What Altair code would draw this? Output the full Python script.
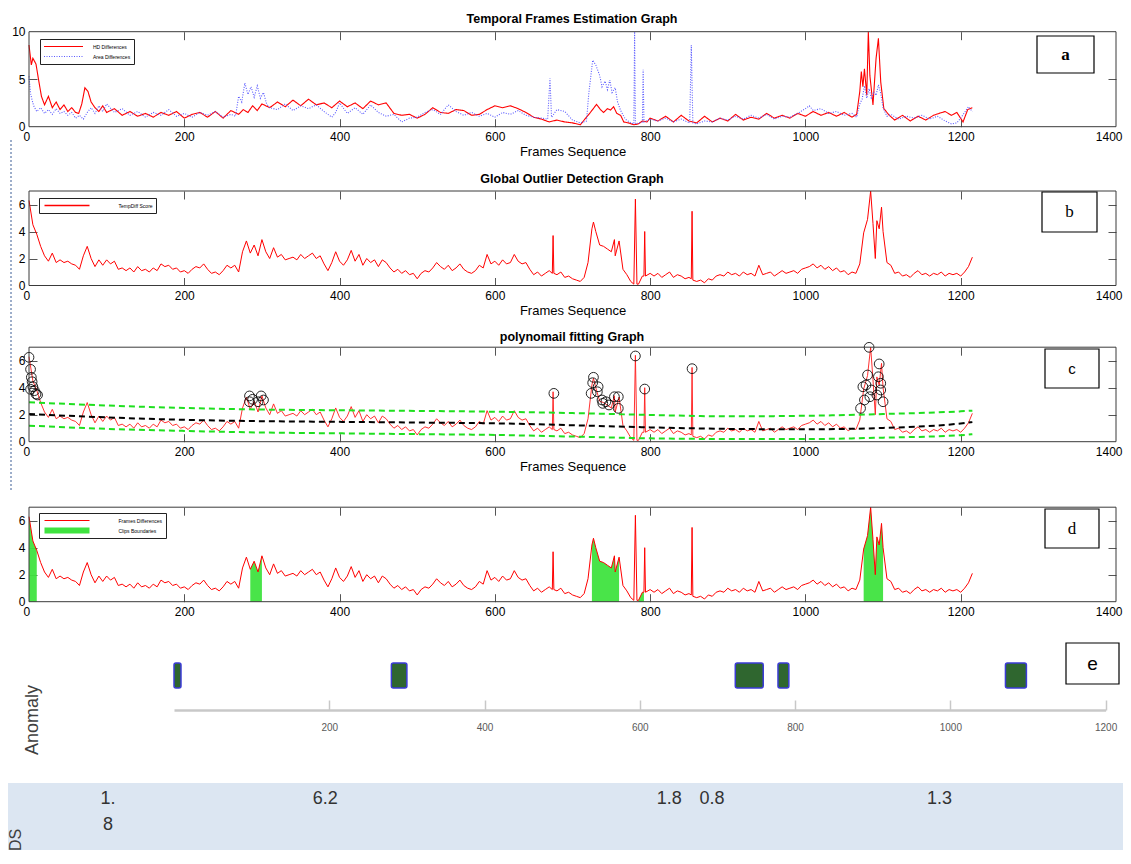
import altair as alt
import pandas as pd

W, H = 1115, 842
FONT = "Liberation Sans, Arial, sans-serif"
NARROW = "Liberation Sans Narrow, Liberation Sans, Arial, sans-serif"
SERIF = "Liberation Serif, DejaVu Serif, serif"

# ---------------- data ----------------
# TempDiff score (panels b, c, d)
tempdiff_frames = [
    0, 5, 10, 15, 20, 25, 30, 35, 40, 45, 50, 55, 60, 65, 70, 75, 80, 85, 90, 95, 100,
    105, 110, 115, 120, 125, 130, 135, 140, 145, 150, 155, 160, 165, 170, 175, 180, 185, 190, 195, 200,
    205, 210, 215, 220, 225, 230, 235, 240, 245, 250, 255, 260, 265, 270, 275, 280, 285, 290, 295, 300,
    305, 310, 315, 320, 325, 330, 335, 340, 345, 350, 355, 360, 365, 370, 375, 380, 385, 390, 395, 400,
    405, 410, 415, 420, 425, 430, 435, 440, 445, 450, 455, 460, 465, 470, 475, 480, 485, 490, 495, 500,
    505, 510, 515, 520, 525, 530, 535, 540, 545, 550, 555, 560, 565, 570, 575, 580, 585, 590, 595, 600,
    605, 610, 615, 620, 625, 630, 635, 640, 645, 650, 655, 660, 665, 670, 674, 675, 676,
    680, 685, 690, 695, 700, 705, 710, 715, 720,
    725, 727, 730, 735, 740, 745, 750, 754, 755, 760, 765, 770, 775,
    779, 781, 783, 785, 790, 792, 793, 794, 800,
    805, 810, 815, 820, 825, 830, 835, 840, 845, 850, 853, 854, 855,
    860, 865, 870, 875, 880, 885, 890, 895, 900,
    905, 910, 915, 920, 925, 930, 935, 940, 945, 950, 955, 960, 965, 970, 975, 980, 985, 990, 995, 1000,
    1005, 1010, 1015, 1020, 1025, 1030, 1035, 1040, 1045, 1050, 1055, 1060, 1065, 1070,
    1075, 1080, 1084, 1087, 1090, 1092, 1095, 1098, 1100,
    1105, 1110, 1115, 1120, 1125, 1130, 1135, 1140, 1145, 1150, 1155, 1160, 1165, 1170, 1175, 1180,
    1185, 1190, 1195, 1200, 1205, 1210, 1215,
]
tempdiff_score = [
    6.3, 4.5, 3.8, 2.9, 2.2, 1.8, 2.4, 1.7, 1.9, 1.7, 1.8, 1.6, 1.5, 1.2, 2.2, 2.9, 2.0, 1.4, 1.9, 1.5, 1.9,
    1.6, 1.8, 1.2, 1.3, 1.1, 1.3, 1.0, 1.4, 1.1, 1.2, 1.0, 1.3, 1.1, 1.6, 1.4, 1.5, 1.2, 1.3, 1.0, 1.1,
    0.9, 1.2, 1.4, 1.3, 1.6, 1.2, 0.9, 1.0, 0.8, 1.1, 1.5, 1.3, 1.5, 1.0, 2.5, 3.3, 2.4, 3.0, 2.2, 3.4,
    2.5, 2.0, 2.8, 2.1, 2.3, 1.9, 2.0, 2.1, 1.9, 2.3, 2.0, 2.2, 2.4, 2.0, 2.2, 1.6, 1.1, 1.7, 2.5, 1.8,
    1.5, 1.9, 2.6, 1.8, 2.3, 1.5, 2.0, 1.7, 1.9, 1.4, 1.9, 1.7, 1.3, 1.0, 1.2, 0.9, 1.1, 0.8, 0.9, 0.5,
    0.9, 1.1, 1.0, 1.3, 1.7, 1.4, 1.2, 1.5, 1.1, 1.3, 1.6, 1.2, 1.0, 0.9, 1.1, 1.5, 1.3, 2.3, 1.6, 1.8,
    1.5, 1.9, 1.6, 1.7, 2.3, 1.8, 1.6, 1.7, 1.2, 0.8, 1.0, 0.7, 0.9, 1.1, 0.9, 3.7, 0.9,
    0.8, 1.0, 0.6, 0.7, 0.5, 0.4, 0.3, 0.6, 1.7,
    4.2, 4.7, 4.0, 3.0, 2.9, 2.7, 2.5, 3.4, 2.2, 3.3, 1.2, 0.8, 0.3,
    0.1, 6.4, 0.1, 0.1, 0.7, 0.7, 4.0, 0.7, 0.9,
    0.7, 0.9, 0.6, 0.8, 1.0, 0.6, 0.8, 0.7, 0.5, 0.6, 0.5, 5.5, 0.4,
    0.3, 0.4, 0.2, 0.5, 0.4, 0.7, 0.8, 0.7, 1.0,
    0.8, 0.9, 0.7, 1.0, 0.8, 0.9, 0.7, 1.5, 0.8, 0.9, 1.0, 0.7, 0.9, 1.1, 0.9, 1.0, 1.1, 0.9, 1.2, 1.3,
    1.4, 1.6, 1.3, 1.5, 1.2, 1.4, 1.1, 1.3, 1.0, 1.1, 0.8, 1.0, 0.9, 1.6,
    3.9, 4.9, 7.0, 4.6, 2.0, 4.8, 4.2, 5.8, 4.0,
    1.7, 1.5, 0.9, 1.0, 0.7, 0.8, 0.6, 0.9, 1.1, 0.8, 0.9, 0.7, 0.9, 0.8, 1.0, 0.7,
    0.9, 0.8, 0.9, 0.7, 1.0, 1.4, 2.1,
]

# HD differences (panel a, red)
hd_frames = [
    0, 3, 5, 9, 12, 16, 20, 25, 30, 35, 40, 45, 50, 55, 60, 64, 68, 72, 76, 80, 85, 90, 95, 100,
    110, 120, 130, 140, 150, 160, 170, 180, 190, 200,
    210, 220, 230, 240, 250, 260, 270, 276, 282, 288, 294, 300,
    310, 320, 330, 340, 350, 360, 370, 380, 390, 400,
    410, 420, 430, 440, 450, 460, 470, 480, 490, 500,
    510, 520, 530, 540, 550, 560, 570, 580, 590, 600,
    610, 620, 630, 640, 650, 660, 670, 680, 690, 700, 710, 717, 723, 731, 736, 740, 745, 749, 753, 757,
    762, 766, 772, 779, 785, 790, 796, 800,
    810, 820, 830, 840, 850, 860, 870, 880, 890, 900,
    910, 920, 930, 940, 950, 960, 970, 980, 990, 1000,
    1010, 1020, 1030, 1040, 1050, 1060, 1066, 1070, 1072, 1074, 1076, 1079, 1081, 1083, 1087, 1091,
    1094, 1097, 1101, 1108,
    1115, 1125, 1135, 1145, 1155, 1165, 1172, 1180, 1188, 1195, 1203, 1209, 1215,
]
hd_diff = [
    8.6, 6.5, 7.2, 6.6, 5.1, 3.2, 2.3, 3.2, 2.0, 2.6, 1.8, 2.3, 1.6, 2.0, 1.5, 1.4, 2.4, 4.1, 3.7, 2.6, 2.0, 1.6, 2.2, 1.5,
    1.9, 1.2, 1.6, 1.1, 1.4, 1.0, 1.5, 1.2, 1.6, 0.9,
    1.3, 1.5, 1.0, 1.6, 0.9, 1.7, 1.3, 1.8, 1.5, 2.2, 1.7, 2.4,
    2.0, 2.6, 2.1, 2.8, 2.2, 2.9, 2.3, 2.5, 2.0, 2.7,
    2.1, 2.5, 1.9, 2.7, 2.3, 2.5, 1.4, 1.2, 1.3, 0.9,
    1.3, 2.0, 1.5, 1.4, 1.8, 1.7, 1.2, 1.3, 1.8, 2.2,
    2.0, 2.2, 1.9, 1.5, 1.0, 0.8, 0.5, 0.7, 0.5, 0.4, 0.2, 0.9, 1.5, 2.35, 1.8, 1.5, 1.9, 1.76, 2.1, 1.4,
    1.2, 0.5, 0.4, 0.2, 0.3, 0.6, 0.5, 0.9,
    0.6, 1.1, 0.5, 1.2, 0.6, 0.4, 1.1, 0.5, 0.9, 0.6,
    1.3, 0.7, 1.0, 0.8, 1.4, 0.9, 1.2, 0.9, 1.4, 1.1,
    1.6, 1.2, 1.5, 1.1, 1.5, 1.0, 1.3, 3.7, 5.8, 4.2, 6.1, 3.3, 10.5, 5.4, 2.3, 7.2,
    9.3, 4.7, 1.9, 1.2,
    0.7, 1.2, 0.6, 1.1, 0.7, 1.2, 1.4, 1.6, 1.2, 1.5, 0.5, 1.8, 2.0,
]

# Area differences (panel a, blue dotted)
area_frames = [
    0, 2, 4, 6, 10, 15, 20, 25, 30, 35, 40, 45, 50, 55, 60, 65, 70, 75, 80, 85, 90, 95, 100,
    110, 120, 130, 140, 150, 160, 170, 180, 190, 200,
    210, 220, 230, 240, 250, 260, 266, 270, 274, 278, 282, 286, 290, 294, 298, 302, 306, 310,
    320, 330, 340, 350, 360, 370, 380, 390, 395, 400,
    410, 420, 430, 440, 450, 460, 470, 480, 490, 500,
    510, 520, 530, 540, 550, 560, 570, 580, 590, 600,
    610, 620, 630, 640, 650, 660, 668, 671, 673, 680, 690, 700, 710, 718,
    721, 726, 730, 735, 738, 742, 745, 748, 751, 755, 758, 762, 768, 775,
    779, 780, 781, 786, 790, 791, 792, 800,
    810, 820, 830, 840, 851, 853, 855, 860, 870, 880, 890, 900,
    910, 920, 930, 940, 950, 960, 970, 980, 990, 1000, 1005, 1010,
    1020, 1030, 1040, 1050, 1060, 1066, 1070, 1073, 1076, 1079, 1082, 1085, 1088, 1091, 1094, 1097, 1100,
    1105, 1110, 1120, 1130, 1140, 1150, 1160, 1170, 1180, 1188, 1195, 1200, 1205, 1210, 1215,
]
area_diff = [
    5.3, 3.5, 2.8, 2.2, 1.6, 2.0, 1.4, 1.8, 1.3, 1.9, 1.4, 1.6, 1.2, 1.5, 0.9, 1.2, 0.8, 1.5, 2.0, 1.4, 2.2, 1.6, 2.4,
    1.5, 1.9, 1.2, 1.6, 1.0, 1.5, 1.2, 1.8, 1.1, 1.4,
    1.0, 1.5, 1.2, 1.6, 1.0, 1.3, 1.1, 3.2, 2.6, 4.6, 3.4, 4.2, 3.1, 4.3, 3.0, 3.6, 2.4, 2.0,
    1.8, 2.4, 1.7, 2.2, 1.9, 2.3, 1.6, 1.0, 1.5, 2.5,
    1.4, 2.0, 1.3, 2.3, 1.5, 1.1, 1.3, 0.5, 0.9, 1.0,
    1.5, 1.8, 1.3, 2.3, 1.6, 1.2, 1.5, 1.1, 1.4, 1.0,
    1.5, 1.3, 1.7, 1.2, 1.0, 0.9, 0.8, 5.1, 1.0, 1.8, 1.6, 0.7, 0.4, 0.6,
    3.5, 7.0, 6.5, 5.4, 4.2, 4.8, 3.9, 4.9, 3.6, 4.1, 2.6, 1.7, 0.8, 0.4,
    0.3, 10.5, 0.3, 0.4, 0.5, 6.0, 0.5, 0.8,
    0.6, 0.9, 0.5, 0.8, 0.4, 8.6, 0.4, 0.3, 0.6, 0.5, 0.9, 0.7,
    1.1, 0.8, 1.2, 0.9, 1.3, 0.8, 1.1, 1.0, 1.4, 1.9, 2.2, 1.7,
    1.9, 1.4, 1.6, 1.2, 1.4, 1.0, 2.4, 2.9, 4.3, 3.0, 4.0, 2.9, 3.7, 3.3, 4.4, 3.5, 2.0,
    1.1, 1.3, 0.8, 1.1, 0.9, 1.2, 0.8, 1.1, 0.6, 0.3, 0.4, 0.9, 1.5, 2.1, 1.6,
]

# polynomial fit (panel c)
fit_frames = [0, 100, 200, 300, 400, 500, 600, 700, 800, 900, 1000, 1100, 1200, 1215]
fit_center = [2.05, 1.80, 1.62, 1.52, 1.47, 1.42, 1.36, 1.22, 1.06, 0.95, 0.92, 1.02, 1.35, 1.45]
fit_upper = [2.92, 2.68, 2.50, 2.38, 2.33, 2.28, 2.22, 2.12, 1.98, 1.88, 1.92, 2.05, 2.25, 2.30]
fit_lower = [1.19, 0.95, 0.80, 0.68, 0.62, 0.56, 0.50, 0.38, 0.25, 0.20, 0.20, 0.30, 0.48, 0.55]

# detected outliers (panel c circles)
outlier_frames = [0, 2, 2, 3, 4, 5, 7, 9, 11,
                  284, 284, 288, 295, 299, 302,
                  676,
                  724, 726, 727, 732, 733, 738, 739, 743, 747, 754, 759, 759,
                  781, 793, 854,
                  1071, 1074, 1076, 1078, 1080, 1082, 1083, 1085, 1092, 1094, 1095, 1097, 1097, 1100]
outlier_scores = [6.25, 5.36, 3.88, 4.77, 4.44, 4.07, 3.78, 3.53, 3.46,
                  3.39, 2.96, 3.14, 2.96, 3.39, 3.09,
                  3.58,
                  3.58, 4.37, 4.77, 3.70, 4.07, 3.09, 2.84, 2.96, 2.72, 3.33, 3.33, 2.47,
                  6.35, 3.90, 5.41,
                  2.47, 4.07, 3.09, 4.20, 4.94, 6.99, 3.33, 3.83, 3.46, 4.81, 5.76, 4.33, 3.83, 2.96]

# clip boundaries (panel d) and anomalies (panel e)
clip_start = [0, 282, 725, 785, 1074]
clip_end = [10, 302, 760, 792, 1101]
anomaly_start = [0, 280, 723, 778, 1071]
anomaly_end = [9, 300, 759, 792, 1098]
ds_labels = ["1.\n8", "6.2", "1.8", "0.8", "1.3"]

frame_ticks = [0, 200, 400, 600, 800, 1000, 1200, 1400]
anomaly_ticks = [200, 400, 600, 800, 1000, 1200]

# ---------------- layout (pixels inside the chart) ----------------
X_RANGE = [21, 1108]
E_RANGE = [166, 1097.6]
PANELS = {
    "a": {"domain": [0, 10], "rng": [118.7, 23.7], "yticks": [0, 5, 10], "inner": [5]},
    "b": {"domain": [0, 7], "rng": [277.5, 183.0], "yticks": [0, 2, 4, 6], "inner": [2, 4, 6]},
    "c": {"domain": [0, 7], "rng": [433.7, 339.2], "yticks": [0, 2, 4, 6], "inner": [2, 4, 6]},
    "d": {"domain": [0, 7], "rng": [593.7, 499.2], "yticks": [0, 2, 4, 6], "inner": [2, 4, 6]},
}
ONE = pd.DataFrame({"k": [0]})


def xscale():
    return alt.Scale(domain=[0, 1400], range=X_RANGE, nice=False, zero=False)


def yscale(key, clamp=False):
    p = PANELS[key]
    return alt.Scale(domain=p["domain"], range=p["rng"], nice=False, zero=False, clamp=clamp)


def main_x(key, title):
    p = PANELS[key]
    kw = dict(orient="bottom", offset=p["rng"][0] - H, values=frame_ticks, tickSize=0,
              domain=False, grid=False, labelPadding=5, labelFontSize=12, labelFont=FONT,
              labelColor="black", labelFlush=True, labelFlushOffset=6, format="d")
    if title:
        kw.update(title=title, titleFont=FONT, titleFontSize=13, titleFontWeight="normal",
                  titleColor="black", titlePadding=3)
    else:
        kw.update(title=None)
    return alt.Axis(**kw)


def main_y(key):
    p = PANELS[key]
    return alt.Axis(orient="left", offset=-X_RANGE[0], values=p["yticks"], tickSize=0,
                    domain=False, grid=False, labelPadding=4, labelFontSize=12, labelFont=FONT,
                    labelColor="black", labelFlush=False, title=None, format="d")


def inner_axis(orient, offset, values):
    return alt.Axis(orient=orient, offset=offset, values=values, labels=False, domain=False,
                    grid=False, tickSize=8, tickColor="#555555", tickWidth=1, title=None)


def frame_layers(key):
    p = PANELS[key]
    box = pd.DataFrame({"x0": [0], "x1": [1400], "y0": [p["domain"][0]], "y1": [p["domain"][1]]})
    inner_x = frame_ticks[1:-1]
    f = alt.Chart(box).mark_rect(fillOpacity=0, stroke="#3a3a3a", strokeWidth=1).encode(
        x=alt.X("x0:Q", scale=xscale(), axis=inner_axis("bottom", p["rng"][1] - H, inner_x)),
        x2="x1:Q",
        y=alt.Y("y0:Q", scale=yscale(key), axis=inner_axis("right", X_RANGE[0] - W, p["inner"])),
        y2="y1:Q",
    )
    g = alt.Chart(box).mark_rect(fillOpacity=0, strokeOpacity=0).encode(
        x=alt.X("x0:Q", scale=xscale(), axis=inner_axis("top", -p["rng"][0], inner_x)),
        x2="x1:Q",
        y=alt.Y("y0:Q", scale=yscale(key), axis=inner_axis("left", -X_RANGE[1], p["inner"])),
        y2="y1:Q",
    )
    return [f, g]


def legend(x, y, size, offset, stroke_width=1.2, **extra):
    return alt.Legend(orient="none", legendX=x, legendY=y, title=None, symbolType="stroke",
                      symbolSize=size, symbolStrokeWidth=stroke_width, clipHeight=9, rowPadding=1,
                      padding=3, labelFontSize=5, labelFont=FONT, labelColor="black",
                      labelOffset=offset, strokeColor="#222222", fillColor="white", cornerRadius=0,
                      **extra)


def text(t, x, y, **kw):
    return alt.Chart(ONE).mark_text(text=t, **kw).encode(x=alt.value(x), y=alt.value(y))


def letter_box(x0, x1, y0, y1, letter, **kw):
    r = alt.Chart(ONE).mark_rect(fill="white", stroke="black", strokeWidth=1.2).encode(
        x=alt.value(x0), x2=alt.value(x1), y=alt.value(y0), y2=alt.value(y1))
    t = text(letter, (x0 + x1) / 2, (y0 + y1) / 2, align="center", baseline="middle", **kw)
    return [r, t]


layers = []

# DS background band
ds_bg = pd.DataFrame({"u0": [0], "u1": [1], "v0": [0], "v1": [1]})
layers.append(alt.Chart(ds_bg).mark_rect(color="#dce6f2").encode(
    x=alt.X("u0:Q", scale=alt.Scale(domain=[0, 1], range=[0, W], nice=False, zero=False), axis=None),
    x2="u1:Q",
    y=alt.Y("v0:Q", scale=alt.Scale(domain=[0, 1], range=[H, 775], nice=False, zero=False), axis=None),
    y2="v1:Q",
))

# dotted margin line
layers.append(alt.Chart(ONE).mark_rule(color="#3a5d95", strokeDash=[2, 2], strokeWidth=1).encode(
    x=alt.value(3), y=alt.value(132), y2=alt.value(482)))

# ---- panel a ----
df_a = pd.concat([
    pd.DataFrame({"frame": hd_frames, "value": hd_diff, "series": "HD Differences"}),
    pd.DataFrame({"frame": area_frames, "value": area_diff, "series": "Area Differences"}),
])
leg_a = legend(32, 31, 1521, 9)
layers.append(alt.Chart(df_a).mark_line(strokeWidth=1.1).encode(
    x=alt.X("frame:Q", scale=xscale(), axis=main_x("a", "Frames Sequence")),
    y=alt.Y("value:Q", scale=yscale("a", clamp=True), axis=main_y("a")),
    color=alt.Color("series:N", scale=alt.Scale(domain=["HD Differences", "Area Differences"],
                                                  range=["#ff0000", "#5a5aff"]), legend=leg_a),
    strokeDash=alt.StrokeDash("series:N", scale=alt.Scale(domain=["HD Differences", "Area Differences"],
                                                           range=[[1, 0], [1, 1.5]]), legend=leg_a),
    detail="series:N",
))
layers += frame_layers("a")

# ---- panel b ----
df_b = pd.DataFrame({"frame": tempdiff_frames, "value": tempdiff_score, "series": "TempDiff Score"})
leg_b = legend(31, 190, 2025, 49,
               stroke_width=alt.ExprRef(expr="datum.value === 'TempDiff Score' ? 1.5 : 1.5"),
               values=["TempDiff Score"], symbolOffset=22.5)
layers.append(alt.Chart(df_b).mark_line(strokeWidth=1).encode(
    x=alt.X("frame:Q", scale=xscale(), axis=main_x("b", "Frames Sequence")),
    y=alt.Y("value:Q", scale=yscale("b"), axis=main_y("b")),
    color=alt.Color("series:N", scale=alt.Scale(domain=["TempDiff Score", "Outlier"],
                                                  range=["#ff0000", "#ff0000"]), legend=leg_b),
))
layers += frame_layers("b")

# ---- panel c ----
df_band = pd.concat([
    pd.DataFrame({"frame": fit_frames, "value": fit_upper, "band": "upper"}),
    pd.DataFrame({"frame": fit_frames, "value": fit_lower, "band": "lower"}),
])
df_fit = pd.DataFrame({"frame": fit_frames, "value": fit_center})
df_out = pd.DataFrame({"frame": outlier_frames, "value": outlier_scores})
layers.append(alt.Chart(df_b).mark_line(strokeWidth=0.9, color="#ff1a1a").encode(
    x=alt.X("frame:Q", scale=xscale(), axis=main_x("c", "Frames Sequence")),
    y=alt.Y("value:Q", scale=yscale("c"), axis=main_y("c")),
))
layers.append(alt.Chart(df_band).mark_line(strokeWidth=2, color="#1fe01f", strokeDash=[6, 4],
                                            interpolate="monotone").encode(
    x=alt.X("frame:Q", scale=xscale(), axis=None),
    y=alt.Y("value:Q", scale=yscale("c"), axis=None),
    detail="band:N",
))
layers.append(alt.Chart(df_fit).mark_line(strokeWidth=2, color="black", strokeDash=[6, 4],
                                           interpolate="monotone").encode(
    x=alt.X("frame:Q", scale=xscale(), axis=None),
    y=alt.Y("value:Q", scale=yscale("c"), axis=None),
))
layers.append(alt.Chart(df_out).mark_point(shape="circle", size=95, color="black", strokeWidth=1,
                                            opacity=0.85, filled=False).encode(
    x=alt.X("frame:Q", scale=xscale(), axis=None),
    y=alt.Y("value:Q", scale=yscale("c"), axis=None),
))
layers += frame_layers("c")

# ---- panel d ----
rows = []
for i, (s, e) in enumerate(zip(clip_start, clip_end)):
    for f, v in zip(tempdiff_frames, tempdiff_score):
        if s <= f <= e:
            rows.append({"frame": f, "value": v, "clip": i})
df_clip = pd.DataFrame(rows)
df_d = pd.DataFrame({"frame": tempdiff_frames, "value": tempdiff_score, "series": "Frames Differences"})
layers.append(alt.Chart(df_clip).mark_area(color="#3fe33f", opacity=0.95).encode(
    x=alt.X("frame:Q", scale=xscale(), axis=None),
    y=alt.Y("value:Q", scale=yscale("d"), axis=None, stack=None),
    y2=alt.datum(0),
    detail="clip:N",
))
leg_d = legend(31, 505, 2025, 49,
               stroke_width=alt.ExprRef(expr="datum.value === 'Clips Boundaries' ? 6 : 1.2"),
               symbolOffset=22.5)
layers.append(alt.Chart(df_d).mark_line(strokeWidth=1).encode(
    x=alt.X("frame:Q", scale=xscale(), axis=main_x("d", None)),
    y=alt.Y("value:Q", scale=yscale("d"), axis=main_y("d")),
    color=alt.Color("series:N", scale=alt.Scale(domain=["Frames Differences", "Clips Boundaries"],
                                                  range=["#ff0000", "#3fe33f"]), legend=leg_d),
))
layers += frame_layers("d")

# ---- panel e ----
escale = alt.Scale(domain=[0, 1200], range=E_RANGE, nice=False, zero=False)
df_e = pd.DataFrame({"start": anomaly_start, "end": anomaly_end, "lo": 0, "hi": 1})
bar_y = alt.Scale(domain=[0, 1], range=[680, 655], nice=False, zero=False)
layers.append(alt.Chart(df_e).mark_rect(fill="#2f662f", stroke="#3b3bd6", strokeWidth=1.5,
                                         cornerRadius=2).encode(
    x=alt.X("start:Q", scale=escale,
            axis=alt.Axis(orient="bottom", offset=702 - H, values=anomaly_ticks, tickSize=0,
                          domain=True, domainColor="#c8c8c8", domainWidth=2.5, labelColor="#5a5a5a",
                          labelFontSize=10, labelFont=NARROW, labelPadding=12, labelFlush=False,
                          grid=False, title=None, format="d")),
    x2="end:Q",
    y=alt.Y("lo:Q", scale=bar_y, axis=None),
    y2="hi:Q",
))
layers.append(alt.Chart(df_e).mark_rect(opacity=0).encode(
    x=alt.X("start:Q", scale=escale,
            axis=alt.Axis(orient="top", offset=-702, values=anomaly_ticks, labels=False,
                          domain=False, grid=False, tickSize=10, tickColor="#c8c8c8",
                          tickWidth=1.5, title=None)),
    x2="end:Q",
    y=alt.Y("lo:Q", scale=bar_y, axis=None),
    y2="hi:Q",
))

# DS row values, placed from the anomaly starts
df_ds = pd.DataFrame({"start": anomaly_start, "label": ds_labels})
layers.append(alt.Chart(df_ds).mark_text(align="center", baseline="top", dx=-66, fontSize=18,
                                          font=NARROW, lineBreak="\n", lineHeight=26,
                                          color="#333333").encode(
    x=alt.X("start:Q", scale=escale, axis=None),
    y=alt.value(782),
    text="label:N",
))

# side labels
layers.append(text("Anomaly", 25, 712, angle=270, align="center", baseline="middle",
                   fontSize=18, font=FONT, color="#404040"))
layers.append(text("DS", 8, 832, angle=270, align="center", baseline="middle",
                   fontSize=16, font=FONT, color="#404040"))

# panel titles
for t, y in [("Temporal Frames Estimation Graph", 11),
             ("Global Outlier Detection Graph", 171),
             ("polynomail fitting Graph", 329)]:
    layers.append(text(t, 564, y, align="center", baseline="middle", fontSize=12.5,
                       fontWeight="bold", font=FONT, color="black"))

# letter boxes
layers += letter_box(1029, 1086, 28, 65, "a", font=SERIF, fontSize=17, fontWeight="bold", color="black")
layers += letter_box(1034, 1089, 184, 224, "b", font=SERIF, fontSize=17, color="black")
layers += letter_box(1037, 1091, 341, 380, "c", font=FONT, fontSize=15, color="black")
layers += letter_box(1037, 1091, 501, 540, "d", font=SERIF, fontSize=17, color="black")
layers += letter_box(1058, 1111, 635, 676, "e", font=FONT, fontSize=19, color="black")

chart = alt.layer(*layers).resolve_scale(
    x="independent", y="independent", color="independent", strokeDash="independent"
).properties(
    width=W, height=H, padding=0, autosize=alt.AutoSizeParams(type="none")
).configure(font=FONT, view=alt.ViewConfig(stroke="transparent", strokeWidth=0, strokeOpacity=0))

chart.save("out.html", embed_options={"renderer": "svg", "actions": False})
